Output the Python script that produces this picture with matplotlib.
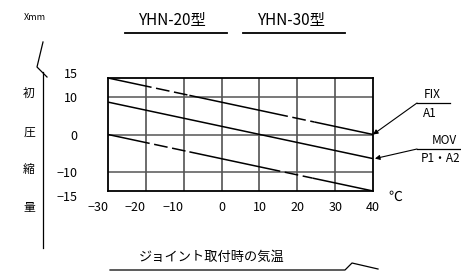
import numpy as np
import matplotlib
matplotlib.use("Agg")
import matplotlib.pyplot as plt
from matplotlib.transforms import ScaledTranslation

plt.rcParams['font.family'] = ['Noto Sans CJK JP', 'DejaVu Sans']

W, H = 461, 272

# data
temps = [-30, 40]
fix_vals = [15, 0]          # FIX / A1
mov_vals = [8.6, -6.4]      # MOV / P1・A2
low_vals = [0, -15]
fix_dashed = [(-18.5, -8.5), (17.5, 24.5)]
low_dashed = [(-19, -8.5), (15.5, 24)]
x_ticks = [-30, -20, -10, 0, 10, 20, 30, 40]
y_ticks = [15, 10, 0, -10, -15]
grid_y = [10, 0, -10]
titles = ['YHN-20型', 'YHN-30型']
side_chars = ['初', '圧', '縮', '量']


def fx(x):
    return x / W


def fy(y):
    return 1 - y / H


def draw_line(ax, vals, dashed):
    # split line into solid and dashed pieces
    cuts = [temps[0]]
    for a, b in dashed:
        cuts += [a, b]
    cuts.append(temps[1])
    for i in range(len(cuts) - 1):
        xs = np.array([cuts[i], cuts[i + 1]])
        ys = np.interp(xs, temps, vals)
        if i % 2 == 0:
            ax.plot(xs, ys, color='black', lw=1.1, solid_capstyle='butt')
        else:
            ax.plot(xs, ys, color='black', lw=1.1, linestyle=(9, (9, 3)))


fig = plt.figure(figsize=(W / 100, H / 100), dpi=100)
ax = fig.add_axes([fx(108), fy(191), fx(373) - fx(108), fy(78) - fy(191)])
ax.set_xlim(-30, 40)
ax.set_ylim(-15, 15)

for t in x_ticks[1:-1]:
    ax.axvline(t, color='#444444', lw=1.1)
for v in grid_y:
    ax.axhline(v, color='#555555', lw=1.1)

draw_line(ax, fix_vals, fix_dashed)
draw_line(ax, mov_vals, [])
draw_line(ax, low_vals, low_dashed)

for s in ax.spines.values():
    s.set_linewidth(1.3)
ax.tick_params(length=0, labelsize=9)
ax.set_xticks(x_ticks)
ax.set_xticklabels([str(t).replace('-', '−') for t in x_ticks])
ax.set_yticks(y_ticks)
ax.set_yticklabels([str(t).replace('-', '−') for t in y_ticks])
ax.tick_params(axis='x', pad=7)
ax.tick_params(axis='y', pad=22)
for lab, t in zip(ax.get_xticklabels(), x_ticks):
    if t < 0:
        lab.set_ha('right')
for lab, t in zip(ax.get_yticklabels(), y_ticks):
    if t == 15:
        lab.set_transform(lab.get_transform() + ScaledTranslation(0, 5 / 100, fig.dpi_scale_trans))
    if t == -15:
        lab.set_transform(lab.get_transform() + ScaledTranslation(0, -5 / 100, fig.dpi_scale_trans))

# titles with underlines
for title, cx, x0, x1 in zip(titles, [173, 292], [125, 243], [227, 345]):
    fig.text(fx(cx), fy(21), title, ha='center', va='center', fontsize=11)
    fig.add_artist(plt.Line2D([fx(x0), fx(x1)], [fy(33), fy(33)], color='black', lw=1.3))

fig.text(fx(35), fy(17), 'Xmm', ha='center', va='center', fontsize=6.5)
fig.text(fx(395), fy(197), '℃', ha='center', va='center', fontsize=10)

# left vertical axis with break mark
fig.add_artist(plt.Line2D([fx(43), fx(37), fx(47)], [fy(42), fy(67), fy(77)], color='black', lw=0.9))
fig.add_artist(plt.Line2D([fx(43), fx(43)], [fy(72), fy(248)], color='black', lw=0.9))
for ch, yy in zip(side_chars, [93, 132, 169, 207]):
    fig.text(fx(29), fy(yy), ch, ha='center', va='center', fontsize=8.5)

# bottom label with break mark
fig.text(fx(212), fy(257), 'ジョイント取付時の気温', ha='center', va='center', fontsize=9.5)
fig.add_artist(plt.Line2D([fx(110), fx(345), fx(352), fx(378)],
                          [fy(270), fy(270), fy(263), fy(269)], color='black', lw=0.9))

# FIX / A1 callout
fig.text(fx(432), fy(94), 'FIX', ha='center', va='center', fontsize=8.5)
fig.text(fx(430), fy(113), 'A1', ha='center', va='center', fontsize=8.5)
fig.add_artist(plt.Line2D([fx(417), fx(450)], [fy(103), fy(103)], color='black', lw=0.9))
ax.annotate('', xy=(temps[1], fix_vals[1]), xytext=(fx(417), fy(103)), textcoords='figure fraction',
            arrowprops=dict(arrowstyle='-|>', color='black', lw=0.8, mutation_scale=7, shrinkA=0, shrinkB=0))

# MOV / P1・A2 callout
fig.text(fx(444), fy(140), 'MOV', ha='center', va='center', fontsize=8.5)
fig.text(fx(441), fy(159), 'P1・A2', ha='center', va='center', fontsize=8.5)
fig.add_artist(plt.Line2D([fx(417), fx(461)], [fy(149), fy(149)], color='black', lw=0.9))
ax.annotate('', xy=(40.5, mov_vals[1]), xytext=(fx(417), fy(149)), textcoords='figure fraction',
            annotation_clip=False,
            arrowprops=dict(arrowstyle='-|>', color='black', lw=0.8, mutation_scale=7, shrinkA=0, shrinkB=0))

fig.savefig('out.png', dpi=100)
